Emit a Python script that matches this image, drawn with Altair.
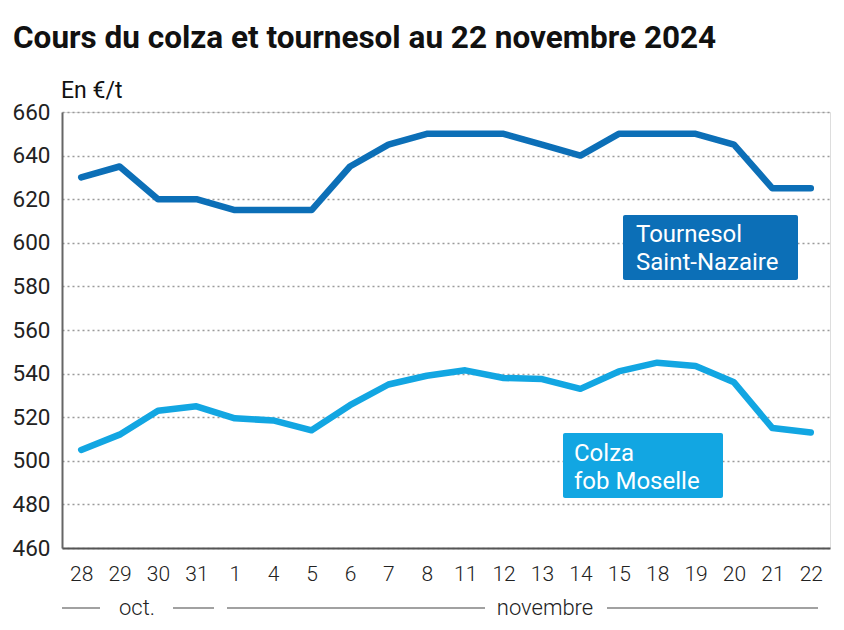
import altair as alt
import pandas as pd

# ---- data ----
days = ["28", "29", "30", "31", "1", "4", "5", "6", "7", "8",
        "11", "12", "13", "14", "15", "18", "19", "20", "21", "22"]
tournesol = [630, 635, 620, 620, 615, 615, 615, 635, 645, 650,
             650, 650, 645, 640, 650, 650, 650, 645, 625, 625]
colza = [505, 512, 523, 525, 519.5, 518.5, 514, 525.5, 535, 539,
         541.5, 538, 537.5, 533, 541, 545, 543.5, 536, 515, 513]
series_names = ["Tournesol", "Colza"]
label_lines = [["Tournesol", "Saint-Nazaire"], ["Colza", "fob Moselle"]]
colors = ["#0c6fb7", "#12a6e2"]
y_ticks = list(range(460, 661, 20))
title_text = "Cours du colza et tournesol au 22 novembre 2024"
unit_text = "En €/t"
month_labels = ["oct.", "novembre"]

FONT = "Roboto"
W, H = 768, 436

rows = []
for d, t, c in zip(days, tournesol, colza):
    rows.append({"day": d, "series": series_names[0], "value": t})
    rows.append({"day": d, "series": series_names[1], "value": c})
df = pd.DataFrame(rows)

x_enc = alt.X(
    "day:N", sort=days,
    scale=alt.Scale(type="point", padding=0.5),
    axis=alt.Axis(title=None, labelAngle=0, labelFont=FONT, labelFontSize=21,
                  labelFontWeight=300, labelColor="#222", labelPadding=15,
                  domainColor="#555", domainWidth=2, ticks=False, grid=False),
)
y_enc = alt.Y(
    "value:Q",
    scale=alt.Scale(domain=[460, 660], nice=False, zero=False),
    axis=alt.Axis(title=None, values=y_ticks, labelFont=FONT, labelFontSize=22.5,
                  labelColor="#222", labelPadding=12, ticks=False,
                  domainColor="#666", domainWidth=2,
                  grid=True, gridDash=[2, 3], gridColor="#9a9a9a", gridWidth=1.5),
)

lines = alt.Chart(df).mark_line(strokeWidth=6.5, strokeCap="round", strokeJoin="round").encode(
    x=x_enc, y=y_enc,
    color=alt.Color("series:N", scale=alt.Scale(domain=series_names, range=colors), legend=None),
)

one = pd.DataFrame({"k": [0]})

def box(x0, x1, y0, y1, color):
    return alt.Chart(one).mark_rect(color=color, cornerRadius=2).encode(
        x=alt.value(x0), x2=alt.value(x1), y=alt.value(y0), y2=alt.value(y1))

def txt(s, x, y, size, color="#111", weight="normal", align="left", baseline="alphabetic"):
    return alt.Chart(one).mark_text(
        text=s, font=FONT, fontSize=size, fontWeight=weight, color=color,
        align=align, baseline=baseline).encode(x=alt.value(x), y=alt.value(y))

def hline(x0, x1, y):
    return alt.Chart(one).mark_rule(color="#444", strokeWidth=1.2).encode(
        x=alt.value(x0), x2=alt.value(x1), y=alt.value(y))

annotations = [
    txt(title_text, -49, -64, 31.5, weight="bold"),
    txt(unit_text, -1, -14, 23),
    box(561, 736, 103, 168, colors[0]),
    txt(label_lines[0][0], 574, 130, 24, color="white"),
    txt(label_lines[0][1], 574, 158, 24, color="white"),
    box(501, 661, 321, 386, colors[1]),
    txt(label_lines[1][0], 512, 349, 24, color="white"),
    txt(label_lines[1][1], 512, 377, 24, color="white"),
    hline(0, 38, 496), hline(111, 152, 496), hline(165, 423, 496), hline(545, 756, 496),
    txt(month_labels[0], 75, 496, 22, color="#222", align="center", baseline="middle",
        weight=300),
    txt(month_labels[1], 483, 496, 22, color="#222", align="center", baseline="middle",
        weight=300),
]

chart = alt.layer(lines, *annotations).properties(
    width=W, height=H,
    autosize=alt.AutoSizeParams(type="none"),
    padding={"left": 54, "top": 104, "right": 6, "bottom": 74},
).configure_view(stroke=None).configure(background="white")

chart.save("out.html", embed_options={"renderer": "svg", "actions": False})
